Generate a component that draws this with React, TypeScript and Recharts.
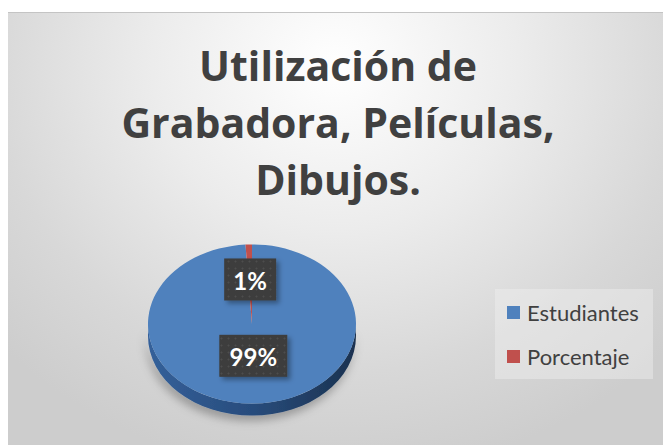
import { PieChart, Pie, Cell, Legend } from "recharts"

const CATEGORIES = ["Estudiantes", "Porcentaje"]
const VALUES = [99, 1]
const TOP_COLORS = ["#4f81bd", "#c0504d"]
const SIDE_COLORS = ["url(#sideBlue)", "#8a3532"]
const TITLE_LINES = ["Utilización de", "Grabadora, Películas,", "Dibujos."]

const data = CATEGORIES.map((name, i) => ({ name, value: VALUES[i] }))

const W = 655
const H = 433
const CX = 244
const CY = 311
const R = 104
const TILT = 0.765
const DEPTH = 12
const RAD = Math.PI / 180
const FONT = "Lato, 'Open Sans', sans-serif"
const TITLE_FONT = "'Open Sans', Lato, sans-serif"

// point on the tilted (elliptical) rim
function pt(cx: number, cy: number, r: number, a: number): [number, number] {
  return [cx + r * Math.cos(a * RAD), cy - r * TILT * Math.sin(a * RAD)]
}

function TopSector(props: any) {
  const { cx, cy, outerRadius: r, startAngle, endAngle, fill } = props
  const [x0, y0] = pt(cx, cy, r, startAngle)
  const [x1, y1] = pt(cx, cy, r, endAngle)
  const large = Math.abs(endAngle - startAngle) > 180 ? 1 : 0
  const sweep = endAngle < startAngle ? 1 : 0
  const d = `M${cx},${cy} L${x0},${y0} A${r},${r * TILT} 0 ${large} ${sweep} ${x1},${y1} Z`
  return <path d={d} fill={fill} />
}

// front wall of the 3D pie, only where the slice faces the viewer
function SideSector(props: any) {
  const { cx, cy, outerRadius: r, startAngle, endAngle, fill } = props
  const lo = Math.min(startAngle, endAngle)
  const hi = Math.max(startAngle, endAngle)
  const parts: string[] = []
  for (const s of [-720, -360, 0, 360]) {
    const a = Math.max(lo, s - 180)
    const b = Math.min(hi, s)
    if (b - a <= 0) continue
    const [xa, ya] = pt(cx, cy, r, a)
    const [xb, yb] = pt(cx, cy, r, b)
    parts.push(
      `M${xa},${ya} A${r},${r * TILT} 0 0 0 ${xb},${yb} L${xb},${yb + DEPTH} A${r},${r * TILT} 0 0 1 ${xa},${ya + DEPTH} Z`
    )
  }
  if (!parts.length) return <g />
  return <path d={parts.join(" ")} fill={fill} filter="url(#pieShadow)" />
}

function renderLabel(props: any) {
  const { cx, cy, midAngle, outerRadius, percent } = props
  const f = percent < 0.5 ? 0.56 : 0.4
  const [x, y] = pt(cx, cy, outerRadius * f, midAngle)
  const text = `${Math.round(percent * 100)}%`
  const w = text.length * 16 + 20
  const h = 42
  return (
    <g>
      <rect x={x - w / 2} y={y - h / 2} width={w} height={h} fill="url(#dots)" filter="url(#lblShadow)" />
      <text
        x={x}
        y={y + 1}
        textAnchor="middle"
        dominantBaseline="central"
        fill="#ffffff"
        fontSize={24}
        fontWeight={700}
        fontFamily={FONT}
      >
        {text}
      </text>
    </g>
  )
}

function renderLegend() {
  return (
    <div
      style={{
        width: 158,
        height: 90,
        boxSizing: "border-box",
        background: "rgba(240,240,240,0.45)",
        paddingTop: 1,
        fontFamily: FONT,
      }}
    >
      {CATEGORIES.map((name, i) => (
        <div key={name} style={{ display: "flex", alignItems: "center", height: 44, paddingLeft: 12 }}>
          <span
            style={{ width: 13, height: 13, background: TOP_COLORS[i], display: "inline-block", marginRight: 7 }}
          />
          <span style={{ fontSize: 22, color: "#404040" }}>{name}</span>
        </div>
      ))}
    </div>
  )
}

export default function App() {
  return (
    <div style={{ position: "relative", width: 663, height: 445, background: "#fff", overflow: "hidden" }}>
      <style>{`body{margin:0}`}</style>
      <div
        style={{
          position: "absolute",
          left: 8,
          top: 12,
          width: W,
          height: H,
          borderTop: "1px solid #c4c4c4",
          background:
            "radial-gradient(ellipse 70% 95% at 50% 12%, #ffffff 0%, #ececec 40%, #d8d8d8 75%, #cdcdcd 100%)",
        }}
      >
        <PieChart width={W} height={H} margin={{ top: 0, right: 0, bottom: 0, left: 0 }}>
          <defs>
            <linearGradient id="sideBlue" x1="0" y1="0" x2="1" y2="0">
              <stop offset="0%" stopColor="#34609a" />
              <stop offset="50%" stopColor="#284c7c" />
              <stop offset="100%" stopColor="#1b3250" />
            </linearGradient>
            <pattern id="dots" width="7" height="7" patternUnits="userSpaceOnUse">
              <rect width="7" height="7" fill="#3c3c3c" />
              <circle cx="3.5" cy="3.5" r="1.1" fill="#4d4d4d" />
            </pattern>
            <filter id="lblShadow" x="-30%" y="-30%" width="160%" height="160%">
              <feDropShadow dx="3" dy="3" stdDeviation="2.5" floodColor="#000" floodOpacity="0.35" />
            </filter>
            <filter id="pieShadow" x="-20%" y="-60%" width="140%" height="220%">
              <feDropShadow dx="-2" dy="5" stdDeviation="5" floodColor="#000" floodOpacity="0.3" />
            </filter>
          </defs>
          {TITLE_LINES.map((line, i) => (
            <text
              key={line}
              x={330}
              y={68 + i * 57}
              textAnchor="middle"
              fill="#404040"
              fontSize={41}
              fontWeight={700}
              fontFamily={TITLE_FONT}
            >
              {line}
            </text>
          ))}
          <Pie
            data={data}
            dataKey="value"
            nameKey="name"
            cx={CX}
            cy={CY}
            outerRadius={R}
            startAngle={90}
            endAngle={-270}
            stroke="none"
            shape={SideSector}
            legendType="none"
            isAnimationActive={false}
          >
            {data.map((d, i) => (
              <Cell key={d.name} fill={SIDE_COLORS[i]} />
            ))}
          </Pie>
          <Pie
            data={data}
            dataKey="value"
            nameKey="name"
            cx={CX}
            cy={CY}
            outerRadius={R}
            startAngle={90}
            endAngle={-270}
            stroke="none"
            shape={TopSector}
            label={renderLabel}
            labelLine={false}
            legendType="square"
            isAnimationActive={false}
          >
            {data.map((d, i) => (
              <Cell key={d.name} fill={TOP_COLORS[i]} />
            ))}
          </Pie>
          <Legend
            layout="vertical"
            align="right"
            verticalAlign="middle"
            content={renderLegend}
            wrapperStyle={{ left: 487, top: 276, width: 158 }}
          />
        </PieChart>
      </div>
    </div>
  )
}
